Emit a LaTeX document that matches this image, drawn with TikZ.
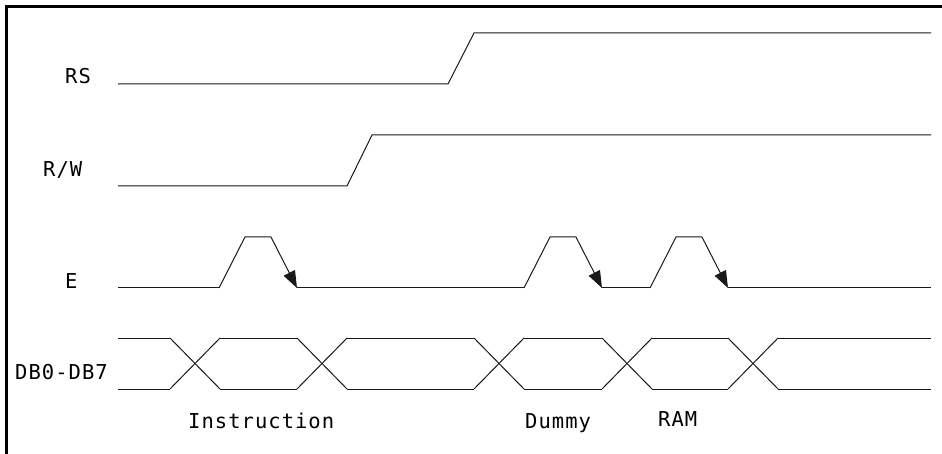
\documentclass[tikz,border=0pt]{standalone}
\usepackage{fontspec}
\usetikzlibrary{arrows.meta}
\newfontfamily\cadfont{DejaVu Sans Mono}[LetterSpace=5]

\begin{document}
\begin{tikzpicture}[x=1pt, y=-1pt,
    sig/.style={line width=1pt, black!90},
    lbl/.style={font=\cadfont\fontsize{20.5}{24}\selectfont, anchor=base west, inner sep=0pt},
    fall/.style={sig, -{Triangle[length=17pt, width=12.5pt]}}]
    \useasboundingbox (0,0) rectangle (942,454);

    % Frame
    \draw[line width=2.5pt] (6.5,454) -- (6.5,6.5) -- (942,6.5);

    % Signal names
    \node[lbl] (rs) at (65,84) {RS};
    \node[lbl] (rw) at (43,177) {R/W};
    \node[lbl] (en) at (65,289) {E};
    \node[lbl] (db) at (15,379) {DB0-DB7};

    % RS and R/W
    \draw[sig] (118,84) -- (448,84) -- (474,33) -- (931,33);
    \draw[sig] (118,186) -- (347,186) -- (372,135) -- (931,135);

    % E: low parts
    \foreach \a/\b in {118/219, 297/524, 602/650, 728/931} {
        \draw[sig] (\a,288) -- (\b,288);
    }
    % E: pulses, arrow on the falling edge
    \foreach \e in {297, 602, 728} {
        \draw[sig] (\e-78,288) -- (\e-52,237) -- (\e-26,237);
        \draw[fall] (\e-26,237) -- (\e,288);
    }

    % DB0-DB7: bus levels
    \foreach \a/\b in {118/170, 220/297, 347/474, 524/602, 652/728, 778/931} {
        \draw[sig] (\a,338) -- (\b,338);
        \draw[sig] (\a,389) -- (\b,389);
    }
    % DB0-DB7: crossings
    \foreach \s in {170, 297, 474, 602, 728} {
        \draw[sig] (\s,338) -- (\s+50,389);
        \draw[sig] (\s,389) -- (\s+50,338);
    }

    % Cycle names
    \node[lbl] (instr) at (188,428) {Instruction};
    \node[lbl] (dummy) at (525,428) {Dummy};
    \node[lbl] (ram) at (658,426) {RAM};

\end{tikzpicture}
\end{document}
